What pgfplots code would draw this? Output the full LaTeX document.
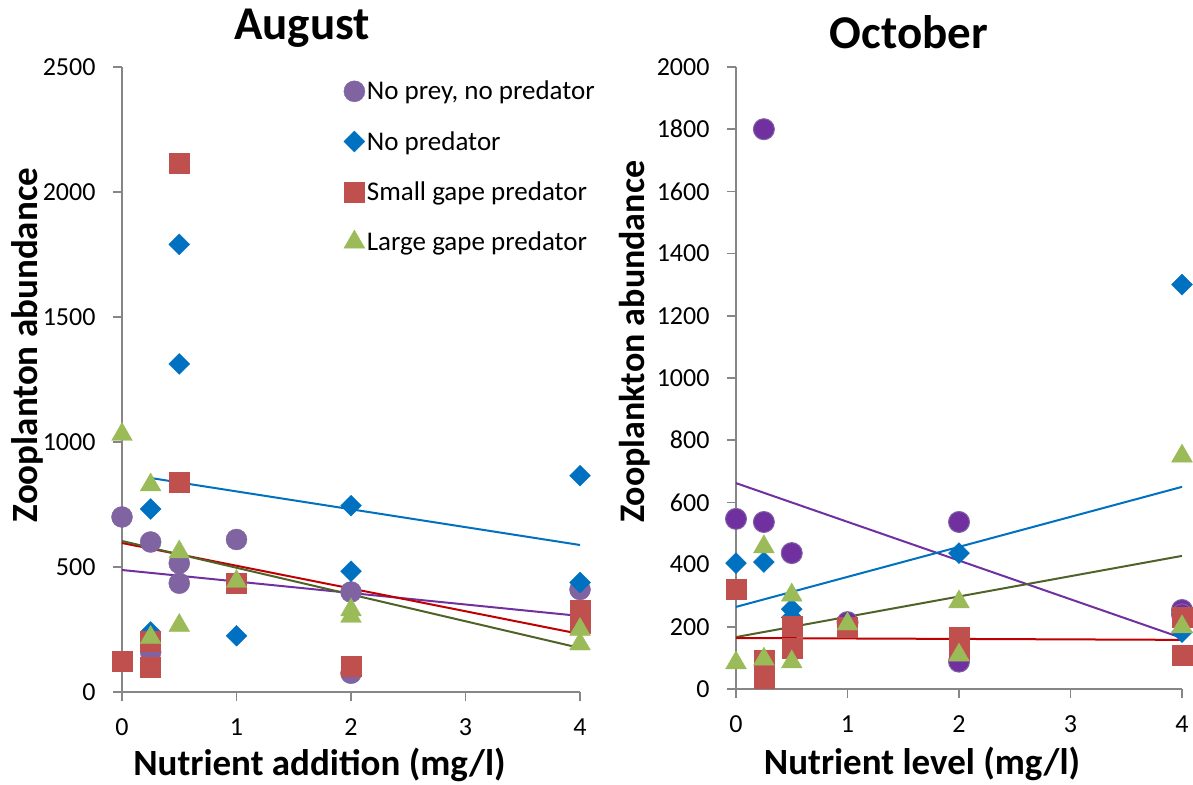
\documentclass[border=0pt]{standalone}
\usepackage{fontspec}
\setmainfont{Carlito}
\usepackage{pgfplots}
\pgfplotsset{compat=1.18}

\definecolor{purpM}{HTML}{8064A2}
\definecolor{purpD}{HTML}{7030A0}
\definecolor{blueM}{HTML}{0070C0}
\definecolor{redM}{HTML}{C0504D}
\definecolor{greenM}{HTML}{9BBB59}
\definecolor{purpL}{HTML}{7030A0}
\definecolor{blueL}{HTML}{0070C0}
\definecolor{redL}{HTML}{C00000}
\definecolor{oliveL}{HTML}{4F6228}
\definecolor{axgray}{HTML}{868686}

\newcommand{\tickfont}{\fontsize{26}{31}\selectfont}

\pgfplotsset{
  panel/.style={
    scale only axis,
    axis x line*=bottom, axis y line*=left,
    axis line style={-, axgray, line width=2pt},
    tick style={axgray, line width=1.6pt},
    tick align=outside,
    major tick length=9pt,
    xmin=0, xmax=4, xtick={0,1,2,3,4},
    ymin=0,
    /pgf/number format/assume math mode=true,
    /pgf/number format/1000 sep={},
    xticklabel={\hbox{\tickfont\pgfmathprintnumber{\tick}}},
    yticklabel={\hbox{\tickfont\pgfmathprintnumber{\tick}}},
    xticklabel style={yshift=-14pt},
    yticklabel style={xshift=-14pt},
    xlabel style={font=\fontsize{37}{44}\selectfont\bfseries, anchor=base},
    ylabel style={font=\fontsize{37}{44}\selectfont\bfseries, anchor=center, rotate=0},
    title style={font=\fontsize{47}{54}\selectfont\bfseries, anchor=base},
    clip=false,
  },
  sP/.style={only marks, mark=*, mark size=10.5pt, mark options={fill=purpM, draw=purpM}},
  sPd/.style={only marks, mark=*, mark size=10.5pt, mark options={fill=purpD, draw=purpM, line width=1pt}},
  sB/.style={only marks, mark=square*, mark size=7.4pt, mark options={fill=blueM, draw=blueM, rotate=45}},
  sR/.style={only marks, mark=square*, mark size=10pt, mark options={fill=redM, draw=redM}},
  sG/.style={only marks, mark=triangle*, mark size=12pt, mark options={fill=greenM, draw=greenM}},
  trend/.style={no marks, line width=2pt, forget plot},
}

\begin{document}
\begin{tikzpicture}
\useasboundingbox (0,0) rectangle (1193pt,784pt);

% ---------------- August ----------------
\begin{axis}[panel,
  at={(122pt,92pt)}, anchor=south west,
  width=458pt, height=625pt,
  ymax=2500, ytick={0,500,...,2500},
  title={August},
  title style={at={(axis description cs:0.393,1.0336)}},
  xlabel={Nutrient addition (mg/l)},
  xlabel style={at={(axis description cs:0.431,-0.1328)}},
  ylabel={Zooplanton abundance},
  ylabel style={at={(axis description cs:-0.207,0.555)}},
  legend cell align=left,
  legend style={at={(axis description cs:0.4775,0.984)}, anchor=north west,
    draw=none, fill=none, row sep=26pt,
    font=\fontsize{27}{32}\selectfont,
    /tikz/every even column/.append style={column sep=5pt}},
]
\addplot[sP] coordinates {(0,700) (0.25,600) (0.25,160) (0.5,515) (0.5,435)
  (1,610) (2,400) (2,75) (4,410)};
\addlegendentry{No prey, no predator}
\addplot[sB] coordinates {(0.25,732) (0.25,240) (0.5,1790) (0.5,1312) (1,225)
  (2,745) (2,483) (4,865) (4,438)};
\addlegendentry{No predator}
\addplot[sR] coordinates {(0,122) (0.25,205) (0.25,100) (0.5,838) (0.5,2117)
  (1,435) (2,105) (4,328) (4,276)};
\addlegendentry{Small gape predator}
\addplot[sG] coordinates {(0,1030) (0.25,828) (0.25,218) (0.5,560) (0.5,266)
  (1,442) (2,328) (2,302) (4,250) (4,192)};
\addlegendentry{Large gape predator}
% linear trend lines
\addplot[trend, blueL] coordinates {(0.25,856) (4,588)};
\addplot[trend, purpL] coordinates {(0,488) (4,304)};
\addplot[trend, redL] coordinates {(0,596) (4,232)};
\addplot[trend, oliveL] coordinates {(0,604) (4,176)};
\end{axis}

% ---------------- October ----------------
\begin{axis}[panel,
  at={(736pt,95pt)}, anchor=south west,
  width=446pt, height=622pt,
  ymax=2000, ytick={0,200,...,2000},
  title={October},
  title style={at={(axis description cs:0.388,1.0207)}},
  xlabel={Nutrient level (mg/l)},
  xlabel style={at={(axis description cs:0.417,-0.138)}},
  ylabel={Zooplankton abundance},
  ylabel style={at={(axis description cs:-0.228,0.558)},
    font=\fontsize{36}{43}\selectfont\bfseries},
]
\addplot[sPd] coordinates {(0,547) (0.25,537) (0.25,1800) (0.5,437) (1,215)
  (2,537) (2,88) (4,254) (4,240)};
\addplot[sB] coordinates {(0,405) (0.25,408) (0.5,257) (0.5,230) (1,210)
  (2,437) (4,1300) (4,183)};
\addplot[sR] coordinates {(0,322) (0.25,93) (0.25,35) (0.5,203) (0.5,132)
  (1,200) (2,165) (2,125) (4,232) (4,109)};
\addplot[sG] coordinates {(0,84) (0.25,457) (0.25,96) (0.5,302) (0.5,87)
  (1,209) (2,280) (2,109) (4,749) (4,200)};
% linear trend lines
\addplot[trend, purpL] coordinates {(0,662) (4,164)};
\addplot[trend, blueL] coordinates {(0,264) (4,650)};
\addplot[trend, oliveL] coordinates {(0,167) (4,428)};
\addplot[trend, redL] coordinates {(0,164) (4,158)};
\end{axis}
\end{tikzpicture}
\end{document}
